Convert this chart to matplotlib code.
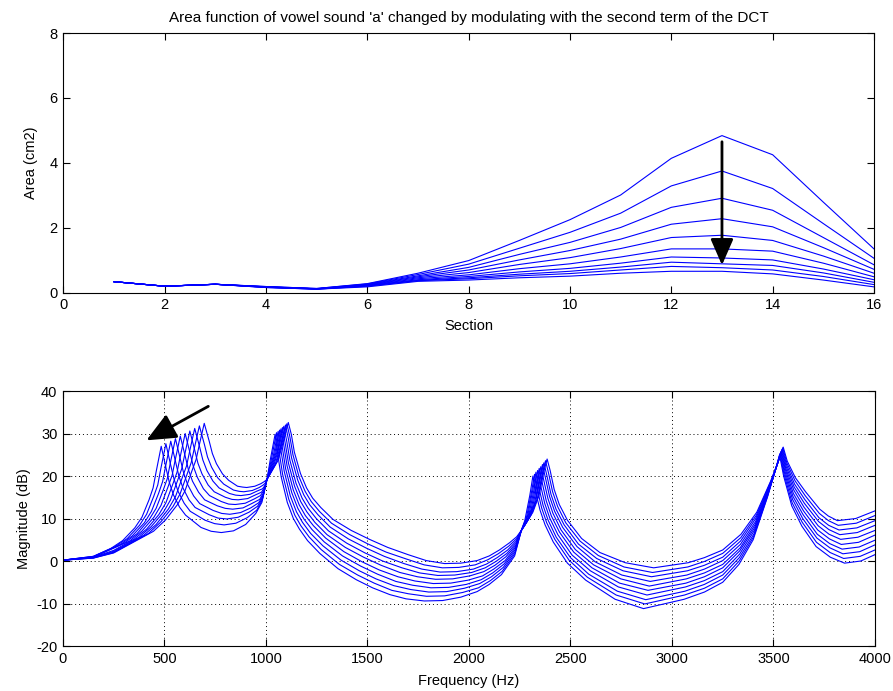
import matplotlib
matplotlib.use("Agg")
from matplotlib import pyplot as plt

plt.rcParams['font.family'] = ['Liberation Sans', 'DejaVu Sans']
plt.rcParams['axes.unicode_minus'] = False

# ---- top panel: area functions (section 1..16), one list per modulation step
sections = list(range(1, 17))
area_0 = [0.34, 0.20, 0.26, 0.19, 0.13, 0.28, 0.60, 0.99, 1.61, 2.25, 3.01, 4.14, 4.84, 4.25, 2.79, 1.35]
area_1 = [0.34, 0.20, 0.26, 0.19, 0.13, 0.27, 0.56, 0.88, 1.37, 1.86, 2.45, 3.29, 3.75, 3.21, 2.13, 1.06]
area_2 = [0.34, 0.20, 0.26, 0.18, 0.12, 0.26, 0.52, 0.78, 1.18, 1.55, 2.01, 2.63, 2.91, 2.54, 1.70, 0.86]
area_3 = [0.34, 0.20, 0.26, 0.18, 0.12, 0.25, 0.49, 0.70, 1.01, 1.30, 1.65, 2.11, 2.28, 2.03, 1.39, 0.72]
area_4 = [0.34, 0.20, 0.26, 0.18, 0.12, 0.24, 0.46, 0.62, 0.87, 1.08, 1.36, 1.70, 1.77, 1.61, 1.13, 0.60]
area_5 = [0.34, 0.20, 0.26, 0.17, 0.12, 0.23, 0.43, 0.55, 0.74, 0.89, 1.10, 1.35, 1.35, 1.28, 0.91, 0.49]
area_6 = [0.34, 0.20, 0.26, 0.17, 0.12, 0.22, 0.40, 0.50, 0.64, 0.75, 0.91, 1.10, 1.07, 1.01, 0.73, 0.40]
area_7 = [0.34, 0.20, 0.26, 0.17, 0.11, 0.21, 0.38, 0.46, 0.57, 0.66, 0.79, 0.94, 0.89, 0.84, 0.61, 0.32]
area_8 = [0.34, 0.20, 0.26, 0.16, 0.11, 0.20, 0.37, 0.43, 0.52, 0.59, 0.70, 0.81, 0.77, 0.70, 0.50, 0.25]
area_9 = [0.34, 0.20, 0.26, 0.16, 0.11, 0.18, 0.35, 0.39, 0.46, 0.51, 0.60, 0.66, 0.66, 0.58, 0.39, 0.18]
areas = [area_0, area_1, area_2, area_3, area_4, area_5, area_6, area_7, area_8, area_9]

# ---- bottom panel: magnitude responses, (Hz, dB)
resp_0 = [(0, 0.2), (150, 0.7), (250, 1.9), (446, 7.0), (506, 9.7), (566, 13.4), (601, 16.5), (636, 21.3),
          (656, 23.9), (671, 27.2), (696, 32.4),
          (721, 28.1), (736, 25.3), (756, 22.9), (786, 20.5), (816, 19.0), (860, 17.6), (885, 17.4), (905, 17.3),
          (945, 17.6), (975, 18.2), (992, 18.7), (1000, 19.0), (1005, 19.2),
          (1060, 23.7), (1085, 28.0), (1110, 32.6), (1125, 29.8), (1140, 25.6), (1170, 20.6), (1200, 17.2),
          (1230, 14.8), (1270, 12.6), (1330, 9.8), (1420, 7.2), (1510, 5.1), (1600, 3.2), (1700, 1.5),
          (1790, 0.1), (1880, -0.6), (1960, -0.5), (2040, 0.1), (2100, 1.2), (2150, 2.6), (2200, 4.3),
          (2235, 5.7), (2258, 7.2),
          (2315, 11.5), (2345, 15.4), (2370, 21.3), (2385, 24.0), (2400, 21.3), (2420, 16.8), (2445, 13.3),
          (2485, 9.6), (2555, 5.3), (2645, 2.0), (2770, -0.4), (2910, -1.6), (3080, -0.4), (3160, 0.8),
          (3250, 2.6), (3340, 6.3),
          (3418, 11.5), (3488, 19.0), (3528, 24.0), (3548, 26.8), (3568, 23.5), (3608, 19.6), (3658, 16.3),
          (3728, 12.2), (3770, 10.6), (3815, 9.5), (3905, 10.0), (4000, 11.8)]
resp_1 = [(0, 0.2), (150, 0.7), (250, 2.0), (422, 6.5), (482, 9.2), (542, 12.8), (577, 15.8), (612, 20.5),
          (632, 23.2), (647, 26.5), (672, 31.8),
          (697, 27.4), (712, 24.5), (732, 22.1), (762, 19.6), (792, 18.1), (840, 16.7), (868, 16.4), (891, 16.3),
          (933, 16.6), (967, 17.3), (987, 17.9), (998, 18.4), (1005, 19.2),
          (1053, 23.3), (1078, 27.5), (1103, 32.3), (1118, 29.2), (1133, 25.0), (1163, 19.8), (1193, 16.4),
          (1223, 14.0), (1263, 11.7), (1323, 8.9), (1413, 6.2), (1503, 4.0), (1592, 2.1), (1690, 0.5),
          (1779, -0.9), (1869, -1.6), (1950, -1.5), (2031, -0.9), (2093, 0.3), (2144, 1.7), (2196, 3.5),
          (2234, 5.2), (2258, 7.2),
          (2307, 10.9), (2337, 14.7), (2362, 20.7), (2377, 23.6), (2392, 20.7), (2412, 16.3), (2437, 12.8),
          (2477, 9.0), (2547, 4.7), (2637, 1.3), (2764, -1.4), (2904, -2.7), (3078, -1.4), (3160, -0.1),
          (3250, 1.8), (3339, 5.5),
          (3416, 10.8), (3486, 18.6), (3526, 23.7), (3546, 26.6), (3566, 23.1), (3606, 18.9), (3656, 15.4),
          (3726, 11.2), (3771, 9.5), (3819, 8.4), (3908, 8.9), (4000, 10.7)]
resp_2 = [(0, 0.2), (150, 0.8), (250, 2.1), (399, 6.1), (459, 8.6), (519, 12.2), (554, 15.1), (589, 19.8),
          (609, 22.4), (624, 25.8), (649, 31.2),
          (674, 26.7), (689, 23.8), (709, 21.3), (739, 18.8), (769, 17.2), (820, 15.9), (851, 15.5), (877, 15.4),
          (922, 15.7), (958, 16.5), (983, 17.0), (996, 17.8), (1005, 19.2),
          (1046, 22.8), (1071, 27.0), (1096, 32.0), (1111, 28.6), (1126, 24.3), (1156, 19.1), (1186, 15.6),
          (1216, 13.2), (1256, 10.9), (1316, 8.0), (1406, 5.2), (1496, 3.0), (1583, 1.1), (1680, -0.6),
          (1768, -1.9), (1858, -2.6), (1940, -2.5), (2022, -1.9), (2087, -0.7), (2139, 0.8), (2191, 2.6),
          (2233, 4.7), (2258, 7.2),
          (2299, 10.3), (2329, 14.1), (2354, 20.0), (2369, 23.1), (2384, 20.1), (2404, 15.7), (2429, 12.2),
          (2469, 8.5), (2539, 4.0), (2629, 0.6), (2759, -2.3), (2899, -3.7), (3076, -2.3), (3160, -1.0),
          (3250, 0.9), (3338, 4.7),
          (3414, 10.1), (3484, 18.1), (3524, 23.4), (3544, 26.4), (3564, 22.7), (3604, 18.1), (3654, 14.5),
          (3724, 10.2), (3772, 8.4), (3823, 7.3), (3911, 7.8), (4000, 9.5)]
resp_3 = [(0, 0.2), (150, 0.8), (250, 2.3), (375, 5.6), (435, 8.1), (495, 11.5), (530, 14.4), (565, 19.0),
          (585, 21.7), (600, 25.1), (625, 30.6),
          (650, 25.9), (665, 23.0), (685, 20.5), (715, 17.9), (745, 16.3), (800, 15.0), (833, 14.5), (863, 14.4),
          (910, 14.7), (950, 15.6), (978, 16.2), (993, 17.3), (1005, 19.2),
          (1038, 22.4), (1063, 26.5), (1088, 31.7), (1103, 28.0), (1118, 23.7), (1148, 18.3), (1178, 14.8),
          (1208, 12.4), (1248, 10.0), (1308, 7.1), (1398, 4.2), (1488, 1.9), (1575, 0.0), (1670, -1.6),
          (1757, -2.8), (1847, -3.4), (1930, -3.3), (2013, -2.7), (2080, -1.6), (2133, -0.1), (2187, 1.8),
          (2232, 4.2), (2258, 7.2),
          (2292, 9.7), (2322, 13.4), (2347, 19.4), (2362, 22.7), (2377, 19.5), (2397, 15.2), (2422, 11.7),
          (2462, 7.9), (2532, 3.4), (2622, -0.2), (2753, -3.3), (2893, -4.8), (3073, -3.3), (3160, -1.9),
          (3250, 0.1), (3337, 3.9),
          (3412, 9.3), (3482, 17.7), (3522, 23.2), (3542, 26.2), (3562, 22.3), (3602, 17.4), (3652, 13.6),
          (3722, 9.3), (3773, 7.4), (3827, 6.2), (3913, 6.7), (4000, 8.4)]
resp_4 = [(0, 0.2), (150, 0.9), (250, 2.5), (352, 5.2), (412, 7.5), (472, 10.9), (507, 13.7), (542, 18.2),
          (562, 20.9), (577, 24.4), (602, 30.0),
          (627, 25.2), (642, 22.3), (662, 19.7), (692, 17.0), (722, 15.4), (780, 14.0), (816, 13.4), (849, 13.3),
          (898, 13.6), (942, 14.6), (973, 15.4), (991, 16.7), (1005, 19.2),
          (1031, 21.9), (1056, 26.0), (1081, 31.4), (1096, 27.4), (1111, 23.0), (1141, 17.6), (1171, 14.0),
          (1201, 11.6), (1241, 9.1), (1301, 6.2), (1391, 3.2), (1481, 0.9), (1567, -1.0), (1660, -2.7),
          (1746, -3.7), (1836, -4.3), (1920, -4.2), (2004, -3.5), (2073, -2.5), (2128, -1.0), (2182, 1.0),
          (2231, 3.7), (2258, 7.2),
          (2284, 9.1), (2314, 12.8), (2339, 18.7), (2354, 22.2), (2369, 18.9), (2389, 14.7), (2414, 11.2),
          (2454, 7.3), (2524, 2.7), (2614, -0.9), (2748, -4.2), (2888, -5.9), (3071, -4.2), (3160, -2.8),
          (3250, -0.8), (3336, 3.1),
          (3410, 8.6), (3480, 17.2), (3520, 22.9), (3540, 26.0), (3560, 21.9), (3600, 16.7), (3650, 12.7),
          (3720, 8.3), (3774, 6.3), (3831, 5.1), (3916, 5.6), (4000, 7.2)]
resp_5 = [(0, 0.2), (150, 0.9), (328, 4.7), (388, 7.0), (448, 10.3), (483, 13.1), (518, 17.5),
          (538, 20.2), (553, 23.8), (578, 29.4),
          (603, 24.5), (618, 21.5), (638, 18.8), (668, 16.2), (698, 14.4), (760, 13.0), (799, 12.4), (836, 12.2),
          (887, 12.5), (933, 13.6), (969, 14.5), (989, 16.1), (1005, 19.2),
          (1024, 21.4), (1049, 25.5), (1074, 31.1), (1089, 26.9), (1104, 22.4), (1134, 16.8), (1164, 13.2),
          (1194, 10.7), (1234, 8.3), (1294, 5.4), (1384, 2.2), (1474, -0.2), (1558, -2.1), (1650, -3.7),
          (1734, -4.7), (1824, -5.3), (1910, -5.2), (1996, -4.5), (2067, -3.5), (2122, -1.9), (2178, 0.1),
          (2229, 3.2), (2258, 7.2),
          (2276, 8.5), (2306, 12.1), (2331, 18.1), (2346, 21.8), (2361, 18.4), (2381, 14.1), (2406, 10.6),
          (2446, 6.8), (2516, 2.1), (2606, -1.6), (2742, -5.2), (2882, -6.9), (3069, -5.2), (3160, -3.7),
          (3250, -1.6), (3334, 2.4),
          (3408, 7.9), (3478, 16.8), (3518, 22.6), (3538, 25.8), (3558, 21.6), (3598, 15.9), (3648, 11.8),
          (3718, 7.3), (3776, 5.2), (3834, 3.9), (3919, 4.4), (4000, 6.1)]
resp_6 = [(0, 0.2), (150, 1.0), (304, 4.3), (364, 6.4), (424, 9.7), (459, 12.4), (494, 16.7),
          (514, 19.4), (529, 23.1), (554, 28.8),
          (579, 23.8), (594, 20.8), (614, 18.0), (644, 15.3), (674, 13.5), (740, 11.9), (782, 11.2), (822, 11.0),
          (875, 11.4), (925, 12.5), (964, 13.7), (987, 15.5), (1005, 19.2),
          (1017, 20.8), (1042, 25.0), (1067, 30.8), (1082, 26.3), (1097, 21.7), (1127, 16.1), (1157, 12.4),
          (1187, 9.9), (1227, 7.4), (1287, 4.5), (1377, 1.2), (1467, -1.2), (1550, -3.1), (1640, -4.8),
          (1723, -5.7), (1813, -6.3), (1900, -6.2), (1987, -5.5), (2060, -4.4), (2117, -2.8), (2173, -0.7),
          (2228, 2.7), (2258, 7.2),
          (2298, 11.5), (2323, 17.4), (2338, 21.3), (2353, 17.8), (2373, 13.6), (2398, 10.1),
          (2438, 6.2), (2508, 1.4), (2598, -2.3), (2736, -6.1), (2877, -8.0), (3067, -6.1), (3160, -4.6),
          (3250, -2.5), (3333, 1.6),
          (3406, 7.2), (3476, 16.3), (3516, 22.3), (3536, 25.6), (3556, 21.2), (3596, 15.2), (3646, 10.9),
          (3716, 6.3), (3777, 4.1), (3838, 2.8), (3922, 3.3), (4000, 4.9)]
resp_7 = [(0, 0.2), (150, 1.0), (281, 3.8), (341, 5.9), (401, 9.0), (436, 11.7), (471, 15.9),
          (491, 18.7), (506, 22.4), (531, 28.2),
          (556, 23.1), (571, 20.0), (591, 17.2), (621, 14.4), (651, 12.6), (720, 10.9), (764, 10.1), (808, 9.9),
          (863, 10.3), (917, 11.5), (959, 12.9), (984, 14.9), (1005, 19.2),
          (1035, 24.5), (1060, 30.5), (1075, 25.7), (1090, 21.1), (1120, 15.3), (1150, 11.6),
          (1180, 9.1), (1220, 6.5), (1280, 3.6), (1370, 0.2), (1460, -2.3), (1542, -4.2), (1630, -5.8),
          (1712, -6.7), (1802, -7.3), (1890, -7.2), (1978, -6.4), (2053, -5.3), (2111, -3.7), (2169, -1.5),
          (2227, 2.2), (2258, 7.2),
          (2290, 10.8), (2315, 16.8), (2330, 20.9), (2345, 17.2), (2365, 13.1), (2390, 9.6),
          (2430, 5.6), (2500, 0.8), (2590, -3.1), (2731, -7.1), (2871, -9.1), (3064, -7.1), (3160, -5.5),
          (3250, -3.3), (3332, 0.8),
          (3404, 6.4), (3474, 15.9), (3514, 22.1), (3534, 25.4), (3554, 20.8), (3594, 14.5), (3644, 10.0),
          (3714, 5.4), (3778, 3.1), (3842, 1.7), (3925, 2.2), (4000, 3.8)]
resp_8 = [(0, 0.2), (150, 1.1), (257, 3.4), (317, 5.3), (377, 8.4), (412, 11.0), (447, 15.2),
          (467, 17.9), (482, 21.7), (507, 27.6),
          (532, 22.3), (547, 19.3), (567, 16.4), (597, 13.6), (627, 11.7), (700, 9.6), (747, 8.8), (794, 8.5),
          (852, 8.9), (908, 10.2), (955, 12.0), (982, 14.4), (1005, 19.2),
          (1027, 24.0), (1052, 30.2), (1067, 25.1), (1082, 20.4), (1112, 14.6), (1142, 10.8),
          (1172, 8.3), (1212, 5.7), (1272, 2.7), (1362, -0.8), (1452, -3.3), (1533, -5.2), (1620, -6.9),
          (1701, -7.7), (1791, -8.3), (1880, -8.2), (1969, -7.4), (2047, -6.3), (2106, -4.6), (2164, -2.4),
          (2226, 1.7), (2258, 7.2),
          (2283, 10.2), (2308, 16.2), (2323, 20.4), (2338, 16.6), (2358, 12.5), (2383, 9.0),
          (2423, 5.1), (2493, 0.2), (2583, -3.8), (2725, -8.0), (2866, -10.1), (3062, -8.0), (3160, -6.4),
          (3250, -4.2), (3331, 0.0),
          (3402, 5.7), (3472, 15.4), (3512, 21.8), (3532, 25.2), (3552, 20.4), (3592, 13.7), (3642, 9.1),
          (3712, 4.4), (3779, 2.0), (3846, 0.6), (3927, 1.1), (4000, 2.6)]
resp_9 = [(0, 0.2), (150, 1.1), (234, 2.9), (294, 4.8), (354, 7.8), (389, 10.3), (424, 14.4),
          (444, 17.2), (459, 21.0), (484, 27.0),
          (509, 21.6), (524, 18.5), (544, 15.6), (574, 12.7), (604, 10.8), (680, 7.9), (730, 7.0), (780, 6.7),
          (840, 7.1), (900, 8.6), (950, 11.2), (980, 13.8), (1005, 19.2),
          (1020, 23.5), (1045, 29.8), (1060, 24.5), (1075, 19.8), (1105, 13.8), (1135, 10.0),
          (1165, 7.5), (1205, 4.8), (1265, 1.8), (1355, -1.8), (1445, -4.4), (1525, -6.3), (1610, -7.9),
          (1690, -8.9), (1780, -9.4), (1870, -9.3), (1960, -8.5), (2040, -7.2), (2100, -5.5), (2160, -3.2),
          (2225, 1.2), (2258, 7.2),
          (2275, 9.5), (2300, 15.5), (2315, 20.0), (2330, 16.0), (2350, 12.0), (2375, 8.5),
          (2415, 4.5), (2485, -0.5), (2575, -4.5), (2720, -9.0), (2860, -11.2), (3060, -9.0), (3160, -7.3),
          (3250, -5.0), (3330, -0.8),
          (3400, 5.0), (3470, 15.0), (3510, 21.5), (3530, 25.0), (3550, 20.0), (3590, 13.0), (3640, 8.2),
          (3710, 3.4), (3780, 0.9), (3850, -0.5), (3930, 0.0), (4000, 1.5)]
responses = [resp_0, resp_1, resp_2, resp_3, resp_4, resp_5, resp_6, resp_7, resp_8, resp_9]

title = "Area function of vowel sound 'a' changed by modulating with the second term of the DCT"

# arrow annotations (start, end) in data units
area_arrow = ((13, 4.65), (13, 0.85))
f1_arrow = ((716, 36.4), (411, 28.4))

fig = plt.figure(figsize=(8.93, 6.91), dpi=100)
ax1 = fig.add_axes([0.0709, 0.5764, 0.9078, 0.3758])
ax2 = fig.add_axes([0.0705, 0.0651, 0.9093, 0.3690])

for a in areas:
    ax1.plot(sections, a, color='#0000ff', lw=0.8)
ax1.set_xlim(0, 16)
ax1.set_ylim(0, 8)
ax1.set_xticks(range(0, 17, 2))
ax1.set_yticks(range(0, 9, 2))
ax1.set_xlabel('Section', fontsize=10.5, labelpad=5)
ax1.set_ylabel('Area (cm2)', fontsize=10.5, labelpad=8)
ax1.set_title(title, fontsize=11, pad=8)
ax1.annotate('', xy=area_arrow[1], xytext=area_arrow[0],
             arrowprops=dict(arrowstyle='-|>,head_length=0.8,head_width=0.35',
                             color='k', lw=2, mutation_scale=20, shrinkA=0, shrinkB=0))

for r in responses:
    hz = [p[0] for p in r]
    db = [p[1] for p in r]
    ax2.plot(hz, db, color='#0000ff', lw=0.8)
ax2.set_xlim(0, 4000)
ax2.set_ylim(-20, 40)
ax2.set_xticks(range(0, 4001, 500))
ax2.set_yticks(range(-20, 41, 10))
ax2.grid(True, color='k', linestyle=(0, (1, 3)), linewidth=0.7)
ax2.set_axisbelow(True)
ax2.set_xlabel('Frequency (Hz)', fontsize=10.5, labelpad=6)
ax2.set_ylabel('Magnitude (dB)', fontsize=10.5, labelpad=4)
ax2.annotate('', xy=f1_arrow[1], xytext=f1_arrow[0],
             arrowprops=dict(arrowstyle='-|>,head_length=0.9,head_width=0.4',
                             color='k', lw=2, mutation_scale=20, shrinkA=0, shrinkB=0))

for ax in (ax1, ax2):
    ax.tick_params(direction='in', top=True, right=True, length=5, width=0.8, labelsize=10.5, pad=4)
    for s in ax.spines.values():
        s.set_linewidth(0.8)

fig.savefig('out.png', dpi=100)
